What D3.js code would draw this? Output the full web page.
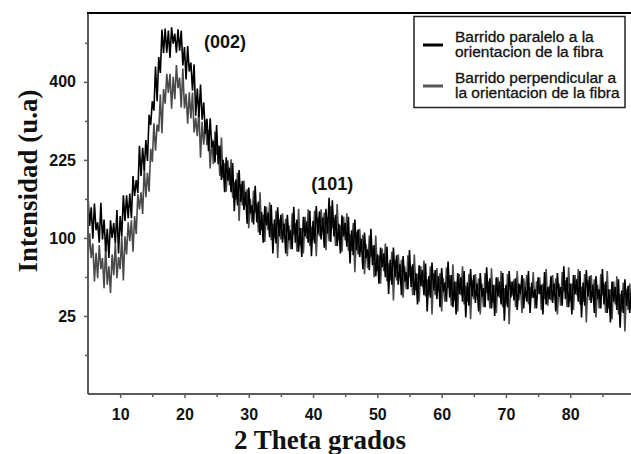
<!DOCTYPE html>
<html><head><meta charset="utf-8">
<script src="https://cdn.jsdelivr.net/npm/d3@7/dist/d3.min.js"></script>
<style>html,body{margin:0;padding:0;background:#fff;}svg{display:block;}</style>
</head><body>
<svg id="chart" width="631" height="454"></svg>
<script>
// ---- data ----
const thetaStart = 5;      // 2θ of first sample (degrees)
const thetaStep = 0.25;    // sampling step (degrees)
const seriesNames = ["Barrido paralelo a la|orientacion de la fibra", "Barrido perpendicular a|la orientacion de la fibra"];
const xTicks = [10, 20, 30, 40, 50, 60, 70, 80];
const xMinorTicks = [15, 25, 35, 45, 55, 65, 75, 85];
const yTicks = [25, 100, 225, 400];
const yMinorTicks = [6.25, 56.25, 156.25, 306.25, 506.25];
const peakLabels = ["(002)", "(101)"];
const peakPos = [[26.3, 491], [43.0, 171]];

// parallel scan (black)
const parallel = [
161,116,143,99,149,110,121,94,150,98,125,83,112,76,124,100,120,93,139,81,130,102,162,123,
162,127,165,127,195,161,188,166,253,195,249,205,265,223,320,297,352,330,440,352,466,423,545,477,
548,478,542,464,552,504,533,478,546,484,542,443,494,406,497,427,451,378,446,318,383,315,393,309,
349,278,311,242,312,250,263,220,297,217,253,188,225,167,230,187,210,167,219,137,189,146,206,152,
186,139,168,119,175,134,146,118,178,121,152,104,136,94,145,117,135,101,147,81,125,93,143,102,
132,94,119,81,132,97,110,86,144,94,125,83,113,77,129,102,122,94,138,78,123,93,145,105,
137,98,128,88,141,106,158,95,154,102,132,90,119,81,131,102,120,89,129,70,110,79,125,85,
111,77,99,64,107,76,86,63,112,68,91,57,80,50,88,66,81,56,89,41,74,49,88,56,
79,49,69,40,78,52,61,45,85,47,69,40,60,33,68,48,63,40,70,28,57,38,71,44,
63,37,57,31,65,43,51,35,72,38,58,31,52,26,60,41,56,35,62,24,51,32,64,39,
58,34,50,28,60,39,46,31,66,36,55,30,49,25,56,39,52,33,60,22,49,31,62,38,
52,36,55,29,50,41,58,30,47,35,62,27,51,38,45,30,56,41,49,26,61,33,47,37,
57,34,50,28,60,39,47,32,67,37,56,31,50,26,58,41,54,35,62,24,51,32,63,39,
57,34,49,27,57,37,45,30,64,33,52,27,45,21,52,35,47,29,54,18,44,27,54,32,
48,27,42,21,49
];

// perpendicular scan (grey)
const perpendicular = [
75,106,76,93,52,82,55,91,64,76,46,89,49,67,42,80,58,93,55,77,64,102,53,102,
80,121,96,124,83,130,105,164,140,167,133,212,159,201,168,247,221,301,243,298,283,368,279,382,
346,421,372,421,334,413,357,444,384,411,337,435,335,370,300,374,312,373,281,313,273,332,229,304,
255,307,254,286,209,267,217,283,235,254,195,270,191,219,168,224,179,226,158,185,155,201,123,181,
146,187,147,172,113,156,121,170,135,149,107,167,110,132,95,144,110,151,97,119,99,138,76,125,
98,134,103,126,78,117,86,134,104,120,83,141,91,113,81,129,99,140,90,115,97,138,78,128,
102,140,111,135,85,128,96,145,113,128,90,148,97,117,83,129,97,134,84,105,84,120,61,108,
80,112,83,104,59,92,65,103,77,90,56,103,62,79,50,87,62,93,52,70,53,83,36,74,
53,80,56,74,38,67,45,79,56,67,40,80,44,59,35,67,47,73,39,54,40,67,26,60,
40,65,45,60,28,55,35,66,46,58,32,69,36,52,28,59,40,67,33,48,35,59,23,53,
37,59,40,55,26,50,31,60,42,52,30,65,34,49,27,56,38,62,31,46,33,59,20,52,
40,54,31,62,36,49,27,55,44,58,33,47,38,61,30,52,41,56,29,50,37,64,32,48,
36,58,40,55,26,50,32,61,43,53,31,66,35,50,29,58,40,64,33,47,35,59,21,53,
36,58,39,54,24,49,30,59,40,50,27,62,30,45,23,52,33,57,26,41,28,51,16,45,
29,50,32,45,18
];

// ---- layout ----
const svg = d3.select("#chart");
const plotLeft = 88, plotBottom = 394, plotTop = 13, plotRight = 631;
const x = d3.scaleLinear().domain([5, 90]).range([plotLeft, plotLeft + 85 * 6.43]);
const y = d3.scaleSqrt().domain([0, 596]).range([plotBottom, plotTop]);

const sans = "'Liberation Sans', Arial, Helvetica, sans-serif";
const serif = "'Liberation Serif', 'Times New Roman', Times, serif";
const axisColor = "#5a5a5a";

svg.append("defs").append("clipPath").attr("id", "plotclip")
  .append("rect").attr("x", plotLeft).attr("y", plotTop)
  .attr("width", plotRight - plotLeft).attr("height", plotBottom - plotTop);

const line = d3.line()
  .x((d, i) => x(thetaStart + i * thetaStep))
  .y(d => y(d));

const plot = svg.append("g").attr("clip-path", "url(#plotclip)");
plot.append("path").datum(perpendicular)
  .attr("d", line).attr("fill", "none").attr("stroke", "#4a4a4a").attr("stroke-width", 1.6)
  .attr("stroke-linejoin", "bevel");
plot.append("path").datum(parallel)
  .attr("d", line).attr("fill", "none").attr("stroke", "#000").attr("stroke-width", 1.6)
  .attr("stroke-linejoin", "bevel");

// ---- axes ----
const xAxis = svg.append("g").attr("transform", `translate(0,${plotBottom})`)
  .call(d3.axisBottom(x).tickValues(xTicks).tickSize(4).tickPadding(11).tickFormat(d3.format("d")));
const xMinor = svg.append("g").attr("transform", `translate(0,${plotBottom})`)
  .call(d3.axisBottom(x).tickValues(xMinorTicks).tickSize(3).tickFormat(""));
const yAxis = svg.append("g").attr("transform", `translate(${plotLeft},0)`)
  .call(d3.axisLeft(y).tickValues(yTicks).tickSize(4).tickPadding(8).tickFormat(d3.format("d")));
const yMinor = svg.append("g").attr("transform", `translate(${plotLeft},0)`)
  .call(d3.axisLeft(y).tickValues(yMinorTicks).tickSize(3).tickFormat(""));

[xAxis, xMinor, yAxis, yMinor].forEach(g => {
  g.select(".domain").remove();
  g.selectAll(".tick line").attr("stroke", axisColor).attr("stroke-width", 1.5);
  g.selectAll(".tick text").attr("fill", "#111").attr("font-family", sans)
    .attr("font-weight", "bold").attr("font-size", 16);
});

// axis lines
svg.append("line").attr("x1", plotLeft).attr("x2", plotRight).attr("y1", plotBottom).attr("y2", plotBottom)
  .attr("stroke", axisColor).attr("stroke-width", 2);
svg.append("line").attr("x1", plotLeft).attr("x2", plotLeft).attr("y1", plotTop).attr("y2", plotBottom)
  .attr("stroke", axisColor).attr("stroke-width", 2);
svg.append("line").attr("x1", plotLeft - 1).attr("x2", plotRight).attr("y1", plotTop).attr("y2", plotTop)
  .attr("stroke", "#000").attr("stroke-width", 2);

// axis titles
svg.append("text").attr("x", 320).attr("y", 449).attr("text-anchor", "middle")
  .attr("font-family", serif).attr("font-weight", "bold").attr("font-size", 27).attr("fill", "#111")
  .text("2 Theta grados");
svg.append("text").attr("transform", "translate(37,181) rotate(-90)").attr("text-anchor", "middle")
  .attr("font-family", serif).attr("font-weight", "bold").attr("font-size", 27).attr("fill", "#111")
  .text("Intensidad (u.a)");

// peak labels
svg.selectAll("text.peak").data(peakLabels).enter().append("text").attr("class", "peak")
  .attr("x", (d, i) => x(peakPos[i][0]))
  .attr("y", (d, i) => y(peakPos[i][1]))
  .attr("text-anchor", "middle")
  .attr("font-family", sans).attr("font-weight", "bold").attr("font-size", 18).attr("fill", "#111")
  .text(d => d);

// legend
const lg = svg.append("g");
lg.append("rect").attr("x", 414).attr("y", 16.5).attr("width", 211).attr("height", 91)
  .attr("fill", "#fff").attr("stroke", "#222").attr("stroke-width", 1.5);
const legendColors = ["#000", "#555"];
seriesNames.forEach((name, i) => {
  const lines = name.split("|");
  const base = 41.5 + i * 41;
  lg.append("line").attr("x1", 423).attr("x2", 443)
    .attr("y1", base + 3.5).attr("y2", base + 3.5)
    .attr("stroke", legendColors[i]).attr("stroke-width", 3);
  lines.forEach((t, j) => {
    lg.append("text").attr("x", 455).attr("y", base + j * 15.7)
      .attr("font-family", sans).attr("font-size", 15.5).attr("fill", "#111")
      .attr("stroke", "#111").attr("stroke-width", 0.3).text(t);
  });
});
</script>
</body></html>
